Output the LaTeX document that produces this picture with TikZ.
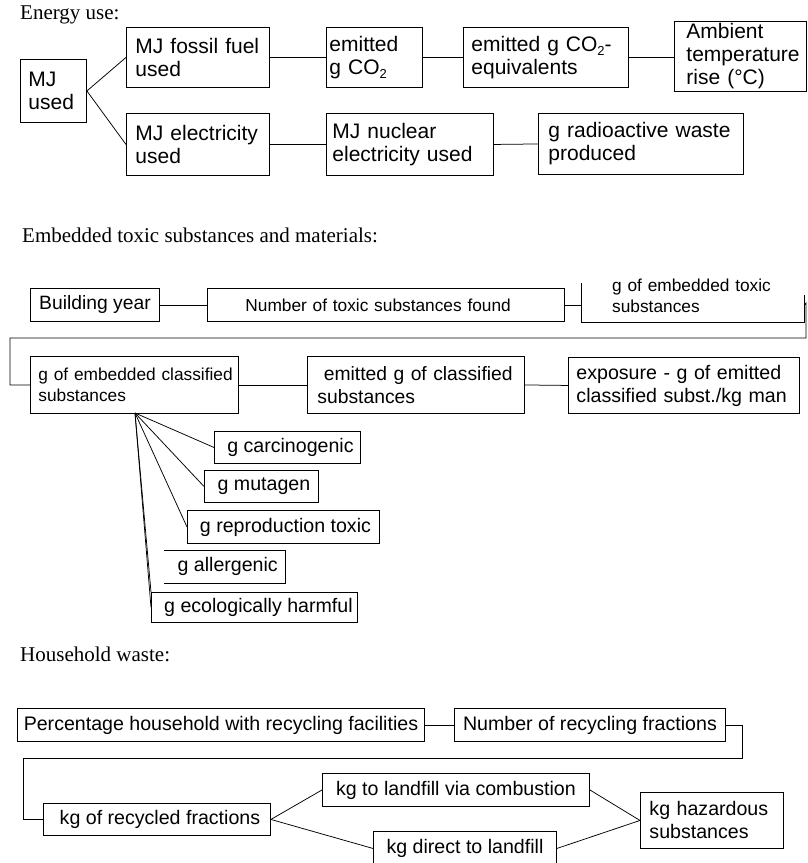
\documentclass[tikz,border=0pt]{standalone}
\usepackage{fontspec}
\setmainfont{Liberation Serif}
\newfontfamily\af{Liberation Sans}
\newcommand{\subtwo}{\raisebox{-4pt}{\fontsize{13}{13}\selectfont 2}}
\begin{document}
\begin{tikzpicture}[x=1pt,y=-1pt,
  bx/.style={draw, line width=0.9pt, inner sep=0pt, anchor=north west, rectangle},
  nb/.style={inner sep=0pt, anchor=north west, rectangle},
  ln/.style={line width=0.75pt},
  hd/.style={anchor=base west, inner sep=0pt, font=\fontsize{21}{24}\selectfont},
  fE/.style={font=\af\fontsize{21}{23}\selectfont},
  fA/.style={font=\af\fontsize{17.3}{21}\selectfont},
  fB/.style={font=\af\fontsize{19.3}{22.5}\selectfont},
  fC/.style={font=\af\fontsize{19.6}{23}\selectfont},
  lt/.style={align=left}
]
\useasboundingbox (0,0) rectangle (807,863);

% ---------------- Energy use ----------------
\node[hd] (h1) at (20,19) {Energy use:};
\node[bx,fE,lt,minimum width=66pt,minimum height=63pt,text width=50pt] (mj) at (20,59) {MJ\\used};
\node[bx,fE,lt,minimum width=143pt,minimum height=60pt,text width=125pt] (fos) at (126,27) {\mbox{MJ fossil fuel}\\used};
\node[bx,fE,lt,minimum width=96pt,minimum height=60pt,text width=90pt] (eco) at (326,27) {emitted\\\mbox{g CO\subtwo}};
\node[bx,fE,lt,minimum width=165pt,minimum height=60pt,text width=149pt] (ceq) at (463,27) {\mbox{emitted g CO\subtwo-}\\equivalents};
\node[bx,fE,lt,minimum width=132pt,minimum height=70pt,text width=108pt] (amb) at (674,21) {Ambient\\temperature\\\mbox{rise (°C)}};
\node[bx,fE,lt,minimum width=143pt,minimum height=62pt,text width=125pt] (ele) at (126,113) {\mbox{MJ electricity}\\used};
\node[bx,fE,lt,minimum width=167pt,minimum height=62pt,text width=155pt] (nuc) at (326,113) {\mbox{MJ nuclear}\\\mbox{electricity used}};
\node[bx,fE,lt,minimum width=205pt,minimum height=61pt,text width=185pt] (rad) at (538,113) {\mbox{g radioactive waste}\\produced};

\draw[ln] (mj.east) -- (fos.west);
\draw[ln] (mj.east) -- (ele.west);
\draw[ln] (fos.east) -- (eco.west);
\draw[ln] (eco.east) -- (ceq.west);
\draw[ln] (ceq.east) -- (amb.west |- ceq.east);
\draw[ln] (ele.east) -- (nuc.west);
\draw[ln] (nuc.east) -- (rad.west);

% ---------------- Embedded toxic substances ----------------
\node[hd] (h2) at (22,242) {Embedded toxic substances and materials:};
\node[bx,fB,minimum width=129pt,minimum height=33pt] (by) at (30,288) {Building year};
\node[bx,fA,lt,minimum width=357pt,minimum height=33pt,text width=281pt] (num) at (207,288) {Number of toxic substances found};
\node[nb,fA,lt,minimum width=223pt,minimum height=52pt,text width=161pt] (tox) at (581,270) {\mbox{g of embedded toxic}\\substances};
\draw[line width=0.9pt] ([yshift=-13pt]tox.north west) -- (tox.south west) -- (tox.south east) -- ([yshift=-25pt]tox.north east);

\node[bx,font=\af\fontsize{17.3}{21}\selectfont,lt,minimum width=208pt,minimum height=57pt,text width=192pt] (cls) at (30,356) {\mbox{g of embedded classified}\\substances};
\node[bx,fB,lt,minimum width=217pt,minimum height=57pt,text width=197pt] (emi) at (307,356) {\mbox{ emitted g of classified}\\substances};
\node[bx,fC,lt,minimum width=231pt,minimum height=56pt,text width=215pt] (exp) at (568,357) {\mbox{exposure - g of emitted}\\\mbox{classified subst./kg man}};

\node[bx,fC,minimum width=146pt,minimum height=32pt] (car) at (214,431) {\hspace{6pt}g carcinogenic};
\node[bx,fC,minimum width=114pt,minimum height=32pt] (mut) at (204,470) {\hspace{5pt}g mutagen};
\node[bx,fC,minimum width=192pt,minimum height=33pt] (rep) at (187,510) {\hspace{4pt}g reproduction toxic};
\node[nb,fC,minimum width=121pt,minimum height=33pt] (alg) at (164,550) {\hspace{6pt}g allergenic};
\draw[line width=0.9pt] (alg.north west) -- (alg.north east) -- (alg.south east) -- (alg.south west);
\node[bx,fC,minimum width=206pt,minimum height=30pt] (ecl) at (151,592) {\hspace{8pt}g ecologically harmful};

\coordinate (tr) at (806,303);
\coordinate (tr2) at (806,338);
\coordinate (tl) at (10,338);
\coordinate (fan) at (135,413);

\draw[ln] (by.east) -- (num.west);
\draw[ln] (num.east) -- (num.east -| tox.west);
\draw[ln] (num.east -| tox.east) -- (tr) -- (tr2) -- (tl) |- (cls.west);
\draw[ln] (cls.east) -- (emi.west);
\draw[ln] (emi.east) -- (exp.west);
\draw[ln] (fan) -- (car.west);
\draw[ln] (fan) -- (mut.west);
\draw[ln] (fan) -- (rep.west);
\draw[ln] (fan) -- (ecl.north west);
\draw[ln] (fan) -- (ecl.west);

% ---------------- Household waste ----------------
\node[hd] (h3) at (20,661) {Household waste:};
\node[bx,fC,minimum width=407pt,minimum height=33pt] (pct) at (17,708) {Percentage household with recycling facilities};
\node[bx,fC,minimum width=271pt,minimum height=33pt] (nrf) at (454,708) {Number of recycling fractions};
\node[bx,fC,minimum width=227pt,minimum height=32pt] (rec) at (43,803) {\hspace{6pt}kg of recycled fractions};
\node[bx,fC,minimum width=267pt,minimum height=33pt] (cmb) at (322,773) {kg to landfill via combustion};
\node[bx,fC,minimum width=183pt,minimum height=34pt] (dir) at (373,831) {kg direct to landfill};
\node[bx,fC,lt,minimum width=143pt,minimum height=56pt,text width=125pt] (haz) at (640,792) {kg hazardous\\substances};

\coordinate (k1) at (742,758);
\coordinate (k2) at (23,758);

\draw[ln] (pct.east) -- (nrf.west);
\draw[ln] (nrf.east) -| (k1) -- (k2) |- (rec.west);
\draw[ln] (rec.east) -- (cmb.west);
\draw[ln] (rec.east) -- (dir.west);
\draw[ln] (cmb.east) -- (haz.west);
\draw[ln] (dir.east) -- (haz.west);
\end{tikzpicture}
\end{document}
